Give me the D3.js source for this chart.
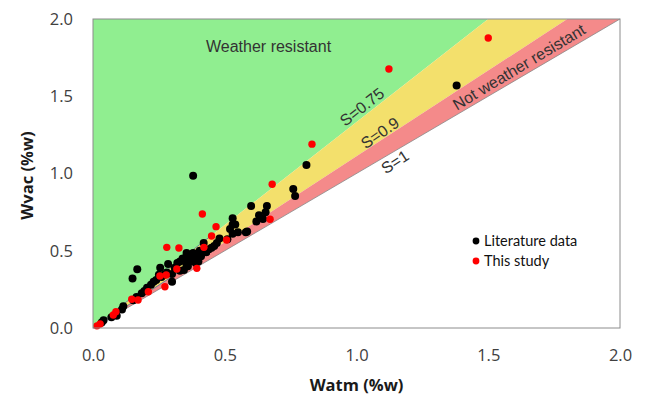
<!DOCTYPE html>
<html>
<head>
<meta charset="utf-8">
<script src="https://cdn.jsdelivr.net/npm/d3@7"></script>
<style>
  body { margin: 0; background: #fff; }
  svg { display: block; }
  .tick text { font-family: "Open Sans", Lato, sans-serif; font-size: 16.5px; fill: #404040; }
  .axis-label { font-family: "Open Sans", Lato, sans-serif; font-size: 16.5px; font-weight: bold; fill: #1a1a1a; }
  .zone-label { font-family: "Liberation Sans", Arial, sans-serif; font-size: 16px; fill: #333; }
  .legend-label { font-family: Lato, "Open Sans", sans-serif; font-size: 14.5px; fill: #111; }
</style>
</head>
<body>
<svg id="chart" width="646" height="397"></svg>
<script>
// S = Watm / Wvac boundaries and their fills
const sValues = [0.75, 0.9, 1];
const zoneColors = ["#90ee90", "#f3e06c", "#f48a8a"];

const tickValues = [0, 0.5, 1.0, 1.5, 2.0];

// Literature data [Watm, Wvac]
const literatureData = [
  [1.38, 1.57], [0.81, 1.055], [0.38, 0.985], [0.76, 0.90], [0.767, 0.855],
  [0.60, 0.79], [0.66, 0.79], [0.655, 0.75], [0.645, 0.705], [0.62, 0.69],
  [0.58, 0.62], [0.53, 0.71], [0.53, 0.67], [0.52, 0.64], [0.53, 0.61],
  [0.51, 0.575], [0.48, 0.58], [0.47, 0.55], [0.46, 0.53], [0.42, 0.55],
  [0.405, 0.50], [0.38, 0.485], [0.37, 0.46], [0.355, 0.485], [0.385, 0.44],
  [0.40, 0.43], [0.355, 0.41], [0.345, 0.375], [0.33, 0.43], [0.32, 0.42],
  [0.285, 0.415], [0.255, 0.39], [0.25, 0.345], [0.24, 0.31], [0.26, 0.33],
  [0.30, 0.30], [0.168, 0.38], [0.15, 0.32], [0.205, 0.26], [0.185, 0.225],
  [0.165, 0.20], [0.153, 0.18], [0.115, 0.14], [0.11, 0.12], [0.09, 0.08],
  [0.07, 0.07], [0.04, 0.05], [0.033, 0.035], [0.34, 0.45], [0.36, 0.455],
  [0.39, 0.47], [0.41, 0.465], [0.43, 0.49], [0.44, 0.51], [0.36, 0.40],
  [0.31, 0.39], [0.28, 0.36], [0.27, 0.345], [0.22, 0.28], [0.195, 0.24],
  [0.45, 0.52], [0.55, 0.62], [0.54, 0.67], [0.585, 0.625], [0.63, 0.73],
  [0.37, 0.43], [0.39, 0.42], [0.33, 0.37], [0.3, 0.35], [0.23, 0.30]
];

// This study [Watm, Wvac]
const studyData = [
  [1.50, 1.877], [1.123, 1.676], [0.831, 1.19], [0.68, 0.93], [0.672, 0.704],
  [0.415, 0.738], [0.467, 0.656], [0.45, 0.595], [0.507, 0.57], [0.421, 0.522],
  [0.28, 0.522], [0.326, 0.518], [0.318, 0.382], [0.394, 0.386], [0.254, 0.337],
  [0.273, 0.267], [0.21, 0.235], [0.147, 0.186], [0.087, 0.105], [0.077, 0.084],
  [0.027, 0.026], [0.278, 0.343], [0.171, 0.181], [0.015, 0.014]
];

const svg = d3.select('#chart');
const margin = { top: 19, right: 26, bottom: 69, left: 93 };
const width = +svg.attr('width');
const height = +svg.attr('height');

const xScale = d3.scaleLinear().domain([0, 2]).range([margin.left, width - margin.right]);
const yScale = d3.scaleLinear().domain([0, 2]).range([height - margin.bottom, margin.top]);

// zones: each between line Wvac = Watm/S_prev and Wvac = Watm/S
const upper = [0].concat(sValues.slice(0, -1)); // 0 means vertical axis
sValues.forEach((s, i) => {
  const s0 = upper[i];
  const pts = [[0, 0], [2 * s0, 2], [2 * s, 2]];
  svg.append('path')
    .attr('d', d3.line().x(d => xScale(d[0])).y(d => yScale(d[1]))(pts) + 'Z')
    .attr('fill', zoneColors[i]);
});

// boundary line for S=1
svg.append('line')
  .attr('x1', xScale(0)).attr('y1', yScale(0))
  .attr('x2', xScale(2)).attr('y2', yScale(2))
  .attr('stroke', '#888').attr('stroke-width', 0.8);

// faint guide lines through the data cluster
[0.75, 0.9].forEach(s => {
  svg.append('line')
    .attr('x1', xScale(0)).attr('y1', yScale(0))
    .attr('x2', xScale(0.45)).attr('y2', yScale(0.45 / s))
    .attr('stroke', '#4a6f94').attr('stroke-width', 1).attr('opacity', 0.8);
});

// points
svg.append('g').selectAll('circle')
  .data(literatureData)
  .enter().append('circle')
  .attr('cx', d => xScale(d[0]))
  .attr('cy', d => yScale(d[1]))
  .attr('r', 4)
  .attr('fill', '#000');

svg.append('g').selectAll('circle')
  .data(studyData)
  .enter().append('circle')
  .attr('cx', d => xScale(d[0]))
  .attr('cy', d => yScale(d[1]))
  .attr('r', 3.7)
  .attr('fill', '#ff0000');

// plot frame
svg.append('rect')
  .attr('x', xScale(0)).attr('y', yScale(2))
  .attr('width', xScale(2) - xScale(0)).attr('height', yScale(0) - yScale(2))
  .attr('fill', 'none').attr('stroke', '#8c8c8c').attr('stroke-width', 1);

// axes (labels only)
const fmt = d3.format('.1f');
const gx = svg.append('g')
  .attr('transform', `translate(0,${yScale(0) + 11})`)
  .call(d3.axisBottom(xScale).tickValues(tickValues).tickFormat(fmt).tickSize(0).tickPadding(10));
gx.select('.domain').remove();

const gy = svg.append('g')
  .attr('transform', `translate(${xScale(0) - 10},0)`)
  .call(d3.axisLeft(yScale).tickValues(tickValues).tickFormat(fmt).tickSize(0).tickPadding(10));
gy.select('.domain').remove();

svg.append('text')
  .attr('class', 'axis-label')
  .attr('text-anchor', 'middle')
  .attr('x', (xScale(0) + xScale(2)) / 2)
  .attr('y', 391)
  .text('Watm (%w)');

svg.append('text')
  .attr('class', 'axis-label')
  .attr('text-anchor', 'middle')
  .attr('transform', `translate(33,${(yScale(0) + yScale(2)) / 2 + 2}) rotate(-90)`)
  .text('Wvac (%w)');

// zone labels
svg.append('text')
  .attr('class', 'zone-label')
  .attr('x', 206).attr('y', 52)
  .text('Weather resistant');

const zoneText = [
  { t: 'S=0.75', x: 362, y: 107, a: -38 },
  { t: 'S=0.9', x: 380, y: 133, a: -35 },
  { t: 'S=1', x: 395, y: 162, a: -33 },
  { t: 'Not weather resistant', x: 519, y: 67, a: -31 }
];
zoneText.forEach(d => {
  svg.append('text')
    .attr('class', 'zone-label')
    .attr('text-anchor', 'middle')
    .attr('dominant-baseline', 'central')
    .attr('transform', `translate(${d.x},${d.y}) rotate(${d.a})`)
    .text(d.t);
});

// legend
const legendItems = [
  { label: 'Literature data', color: '#000' },
  { label: 'This study', color: '#ff0000' }
];
const legend = svg.append('g').attr('transform', 'translate(476,241)');
legendItems.forEach((d, i) => {
  const row = legend.append('g').attr('transform', `translate(0,${i * 20})`);
  row.append('circle').attr('r', 3.4).attr('fill', d.color);
  row.append('text')
    .attr('class', 'legend-label')
    .attr('x', 8)
    .attr('dy', '0.35em')
    .text(d.label);
});
</script>
</body>
</html>
